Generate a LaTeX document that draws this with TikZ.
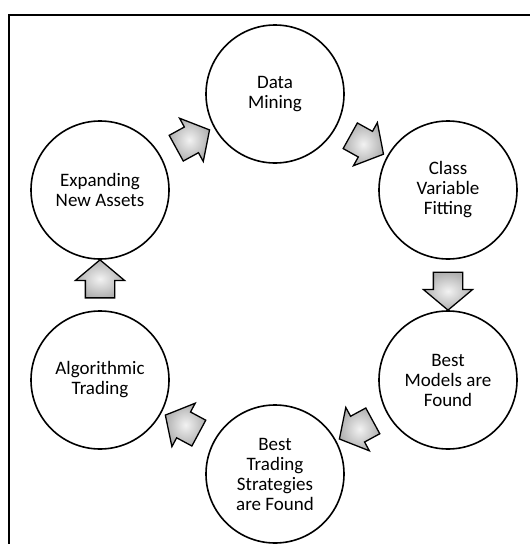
\documentclass[tikz,border=0pt]{standalone}
\usepackage{fontspec}
\setmainfont{Carlito}
\usetikzlibrary{shapes.arrows}
\begin{document}
\begin{tikzpicture}[x=1pt,y=-1pt,
  stage/.style={circle, draw, line width=1.6pt, minimum size=138pt, inner sep=0pt,
    align=center, font=\fontsize{19}{20}\selectfont},
  blockarrow/.style={single arrow, draw, line width=1.3pt, inner sep=0pt,
    minimum height=38pt, minimum width=48pt, single arrow head extend=10pt,
    single arrow tip angle=100, shading=radial, inner color=gray!10,
    outer color=gray!62, sloped, allow upside down}]
  \useasboundingbox (0,0) rectangle (530,544);
  % open frame: only the top and left edges fall inside the page
  \draw[line width=2pt] (9,544) -- (9,15) -- (530,15);

  % the six stages of the cycle
  \node[stage] (dm)  at (275,94)  {Data\\Mining};
  \node[stage] (cvf) at (448,190) {Class\\Variable\\Fitting};
  \node[stage] (bmf) at (448,380) {Best\\Models are\\Found};
  \node[stage] (bts) at (275,474) {Best\\Trading\\Strategies\\are Found};
  \node[stage] (at)  at (100,380) {Algorithmic\\Trading};
  \node[stage] (ena) at (100,190) {Expanding\\New Assets};

  % block arrows running clockwise between neighbouring stages;
  % the strut sets the shaft width
  \path (dm)  -- node[blockarrow] (a1) {\rule{0pt}{28pt}} (cvf);
  \path (cvf) -- node[blockarrow] (a2) {\rule{0pt}{28pt}} (bmf);
  \path (bmf) -- node[blockarrow] (a3) {\rule{0pt}{28pt}} (bts);
  \path (bts) -- node[blockarrow] (a4) {\rule{0pt}{28pt}} (at);
  \path (at)  -- node[blockarrow] (a5) {\rule{0pt}{28pt}} (ena);
  \path (ena) -- node[blockarrow] (a6) {\rule{0pt}{28pt}} (dm);
\end{tikzpicture}
\end{document}
